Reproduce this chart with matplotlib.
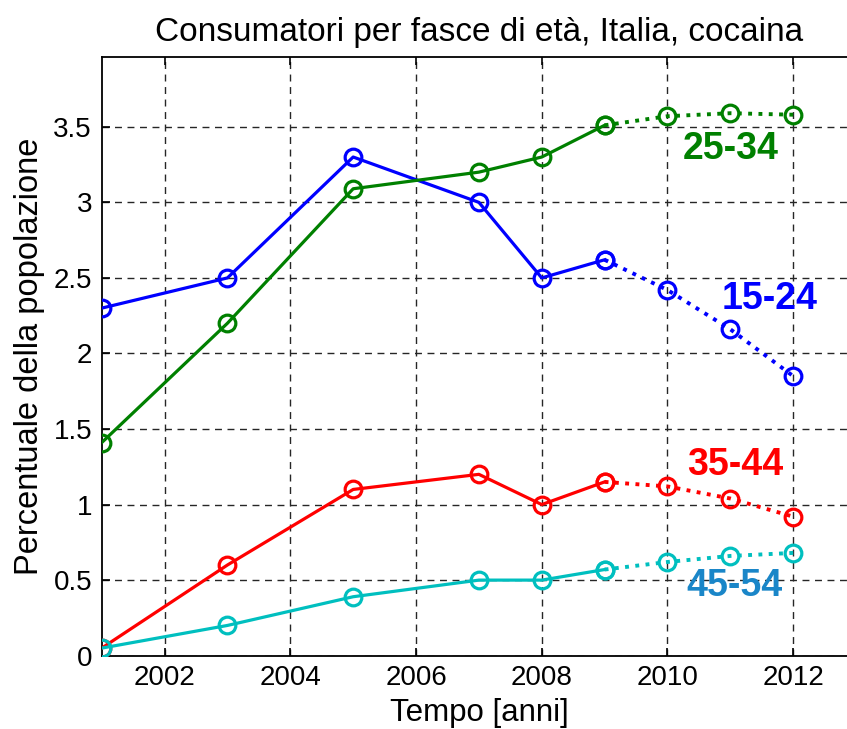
import matplotlib
matplotlib.use('Agg')
import matplotlib.pyplot as plt

plt.rcParams['font.family'] = ['Liberation Sans', 'DejaVu Sans']

# anni osservati e dati stimati (linea tratteggiata dal 2009 in poi)
years = [2001, 2003, 2005, 2007, 2008, 2009, 2010, 2011, 2012]
age_groups = ['15-24', '25-34', '35-44', '45-54']
v_15_24 = [2.30, 2.50, 3.30, 3.00, 2.50, 2.62, 2.42, 2.16, 1.85]
v_25_34 = [1.41, 2.20, 3.09, 3.20, 3.30, 3.51, 3.57, 3.59, 3.58]
v_35_44 = [0.05, 0.60, 1.10, 1.20, 1.00, 1.15, 1.12, 1.04, 0.92]
v_45_54 = [0.05, 0.20, 0.39, 0.50, 0.50, 0.57, 0.62, 0.66, 0.68]
split_year = 2009

line_colors = ['#0000ff', '#008000', '#ff0000', '#00bfbf']
label_colors = ['#0000ff', '#008000', '#ff0000', '#1a86c8']
label_pos = [(2011.62, 2.36), (2011.0, 3.35), (2011.08, 1.26), (2011.06, 0.46)]

fig = plt.figure(figsize=(8.47, 7.29), dpi=100)
ax = fig.add_axes([0.1201, 0.1006, 0.8906, 0.8208])

k = years.index(split_year)
for vals, c in zip([v_15_24, v_25_34, v_35_44, v_45_54], line_colors):
    ax.plot(years[:k + 1], vals[:k + 1], '-', color=c, lw=2.3,
            marker='o', ms=12, mfc='none', mec=c, mew=2.3, zorder=3)
    ax.plot(years[k:], vals[k:], ':', color=c, lw=2.8,
            marker='o', ms=12, mfc='none', mec=c, mew=2.3, zorder=3)

for name, c, (x, y) in zip(age_groups, label_colors, label_pos):
    ax.text(x, y, name, color=c, fontsize=27, fontweight='bold',
            ha='center', va='center')

ax.set_xlim(2001, 2013)
ax.set_ylim(0, 3.96)
ax.set_xticks([2002, 2004, 2006, 2008, 2010, 2012])
ax.set_yticks([0, 0.5, 1, 1.5, 2, 2.5, 3, 3.5])
ax.set_yticklabels(['0', '0.5', '1', '1.5', '2', '2.5', '3', '3.5'])
ax.tick_params(direction='in', length=6, width=1.2, labelsize=20,
               top=True, right=True, pad=7)
ax.grid(True, color='0.15', linestyle=(0, (5, 4)), linewidth=1.0, zorder=0)
ax.set_axisbelow(True)
for s in ax.spines.values():
    s.set_linewidth(1.3)

ax.set_title('Consumatori per fasce di età, Italia, cocaina', fontsize=24, pad=12)
ax.set_xlabel('Tempo [anni]', fontsize=22.5, labelpad=5)
ax.set_ylabel('Percentuale della popolazione', fontsize=23.5, labelpad=6)

fig.savefig('out.png', dpi=100)
